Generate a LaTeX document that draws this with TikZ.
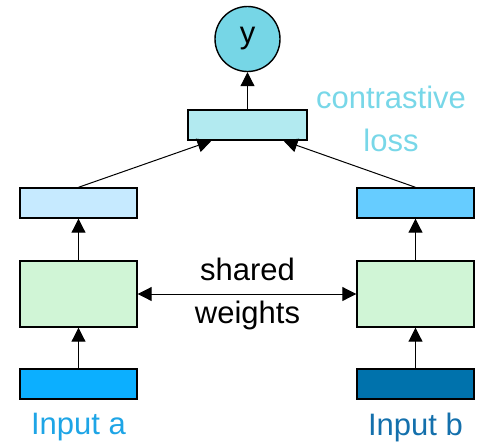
\documentclass[tikz,border=0pt]{standalone}
\usepackage{fontspec}
\setmainfont{Liberation Sans}
\usetikzlibrary{arrows.meta}

\definecolor{ycol}{RGB}{118,214,230}
\definecolor{losscol}{RGB}{178,234,240}
\definecolor{embacol}{RGB}{198,234,255}
\definecolor{embbcol}{RGB}{102,204,255}
\definecolor{netcol}{RGB}{208,245,214}
\definecolor{inacol}{RGB}{12,175,255}
\definecolor{inbcol}{RGB}{0,114,172}
\definecolor{txtacol}{RGB}{30,165,230}
\definecolor{txtbcol}{RGB}{20,112,172}
\definecolor{txtloss}{RGB}{120,215,232}

\begin{document}
\begin{tikzpicture}[x=1pt, y=-1pt,
	box/.style={draw, line width=1.4pt, minimum width=117pt, minimum height=30pt, inner sep=0pt},
	netbox/.style={box, minimum height=66pt, fill=netcol},
	tip/.tip={Triangle[length=14pt,width=14pt]},
	arr/.style={line width=1pt, -tip},
	lbl/.style={font=\fontsize{31}{43}\selectfont, align=center}]
\useasboundingbox (0, 0) rectangle (481, 442);

% output and loss
\node[circle, draw, line width=1.4pt, fill=ycol, minimum size=65pt, inner sep=0pt, lbl] (y) at (247.5, 39) {y};
\node[box, minimum width=119pt, fill=losscol] (loss) at (247.5, 125) {};
\node[lbl, text=txtloss] (losstxt) at (391, 119) {contrastive\\loss};

% left branch
\node[box, fill=embacol] (emba) at (78.5, 203) {};
\node[netbox] (neta) at (78.5, 294) {};
\node[box, fill=inacol] (ina) at (78.5, 384) {};
\node[lbl, text=txtacol] (txta) at (78.5, 427) {Input a};

% right branch
\node[box, fill=embbcol] (embb) at (415.5, 203) {};
\node[netbox] (netb) at (415.5, 294) {};
\node[box, fill=inbcol] (inb) at (415.5, 384) {};
\node[lbl, text=txtbcol] (txtb) at (415.5, 427) {Input b};

\node[lbl] (shared) at (247.5, 294) {shared\\weights};

\coordinate (lossa) at ([xshift=-36pt]loss.south);
\coordinate (lossb) at ([xshift=36pt]loss.south);

\draw[arr] (ina) -- (neta);
\draw[arr] (neta) -- (emba);
\draw[arr] (emba.north) -- (lossa);
\draw[arr] (inb) -- (netb);
\draw[arr] (netb) -- (embb);
\draw[arr] (embb.north) -- (lossb);
\draw[arr] (loss) -- (y);
\draw[arr, tip-tip] (neta) -- (netb);
\end{tikzpicture}
\end{document}
